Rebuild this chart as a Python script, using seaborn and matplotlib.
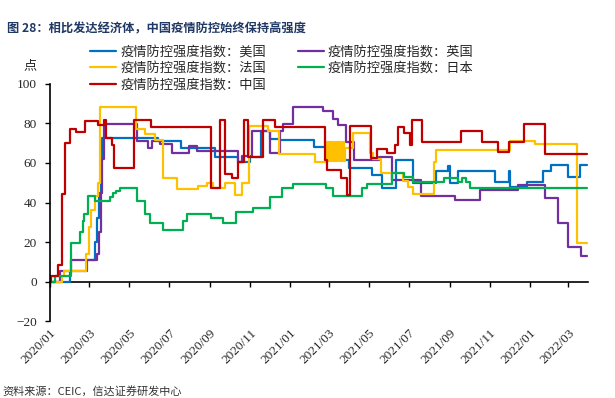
import pandas as pd
import numpy as np
import matplotlib
matplotlib.use("Agg")
import matplotlib.pyplot as plt
import matplotlib.dates as mdates
import seaborn as sns

# 疫情防控强度指数（按变化点记录，阶梯线）
us_dates = ["2020-01-01", "2020-02-01", "2020-02-27", "2020-03-09", "2020-03-13", "2020-03-16",
            "2020-03-19", "2020-03-21", "2020-06-13", "2020-07-19", "2020-09-08", "2020-10-14",
            "2020-11-01", "2020-11-18", "2020-12-01", "2020-12-16", "2021-02-06", "2021-03-24",
            "2021-04-01", "2021-05-06", "2021-05-21", "2021-06-12", "2021-07-08", "2021-08-11",
            "2021-08-30", "2021-09-02", "2021-09-14", "2021-11-09", "2021-11-30", "2021-12-02",
            "2021-12-28", "2022-01-21", "2022-02-02", "2022-03-01", "2022-03-19", "2022-03-30"]
us_vals = [0, 5.6, 11.0, 20.0, 32.0, 45.0,
           62.0, 72.7, 71.3, 67.6, 63.1, 60.6,
           63.1, 75.9, 72.2, 71.8, 68.2, 61.5,
           57.3, 53.9, 47.2, 61.5, 49.7, 55.9,
           58.5, 49.7, 55.9, 50.5, 55.9, 48.0,
           50.5, 55.9, 58.9, 53.0, 58.9, 58.9]

uk_dates = ["2020-01-01", "2020-01-17", "2020-02-02", "2020-03-13", "2020-03-16", "2020-03-19",
            "2020-03-21", "2020-03-23", "2020-05-12", "2020-05-30", "2020-06-05", "2020-06-17",
            "2020-07-05", "2020-07-31", "2020-08-12", "2020-10-14", "2020-10-20", "2020-11-04",
            "2020-12-02", "2020-12-16", "2020-12-21", "2021-01-05", "2021-02-20", "2021-03-08",
            "2021-03-15", "2021-03-27", "2021-04-08", "2021-05-17", "2021-06-06", "2021-07-19",
            "2021-09-09", "2021-10-17", "2021-12-15", "2022-01-24", "2022-02-14", "2022-03-01",
            "2022-03-21", "2022-03-30"]
uk_vals = [0, 5.6, 11.1, 13.9, 25.0, 45.0,
           62.0, 79.6, 71.3, 67.6, 71.3, 69.4,
           64.8, 68.5, 66.2, 60.6, 63.7, 75.9,
           64.8, 75.9, 79.6, 88.0, 86.1, 82.4,
           79.2, 70.8, 61.6, 63.0, 51.4, 43.5,
           41.2, 46.3, 48.6, 42.1, 29.6, 17.6,
           13.0, 13.0]

fr_dates = ["2020-01-01", "2020-01-20", "2020-01-23", "2020-02-25", "2020-02-29", "2020-03-04",
            "2020-03-09", "2020-03-14", "2020-03-17", "2020-05-11", "2020-05-25", "2020-06-09",
            "2020-06-22", "2020-07-12", "2020-08-13", "2020-08-27", "2020-09-06", "2020-09-24",
            "2020-10-09", "2020-10-19", "2020-10-30", "2020-11-28", "2020-12-15", "2021-02-08",
            "2021-02-26", "2021-02-28", "2021-03-02", "2021-03-04", "2021-03-06", "2021-03-08",
            "2021-03-10", "2021-03-12", "2021-03-14", "2021-03-16", "2021-03-18", "2021-03-20",
            "2021-03-22", "2021-03-24", "2021-03-26", "2021-04-07", "2021-05-03", "2021-05-08",
            "2021-05-19", "2021-06-22", "2021-06-30", "2021-07-08", "2021-08-09", "2021-08-12",
            "2021-12-02", "2022-01-09", "2022-03-14", "2022-03-30"]
fr_vals = [0, 2.8, 5.6, 13.9, 27.8, 36.0,
           43.5, 50.0, 88.0, 77.0, 74.8, 71.8,
           52.3, 46.8, 48.2, 49.7, 47.2, 49.7,
           43.8, 49.7, 78.7, 75.9, 64.4, 60.7,
           70.4, 61.1, 70.4, 61.1, 70.4, 61.1,
           70.4, 61.1, 70.4, 61.1, 70.4, 61.1,
           70.4, 61.1, 67.6, 75.0, 65.0, 62.0,
           55.1, 50.9, 48.0, 44.4, 60.6, 66.7,
           71.3, 69.4, 19.4, 19.4]

jp_dates = ["2020-01-01", "2020-01-08", "2020-02-02", "2020-02-16", "2020-02-20", "2020-02-22",
            "2020-02-28", "2020-03-09", "2020-04-01", "2020-04-06", "2020-04-11", "2020-04-16",
            "2020-05-12", "2020-05-25", "2020-06-01", "2020-06-21", "2020-07-22", "2020-07-28",
            "2020-09-03", "2020-09-20", "2020-10-10", "2020-11-06", "2020-12-01", "2020-12-19",
            "2021-01-06", "2021-02-25", "2021-03-08", "2021-04-20", "2021-04-28", "2021-06-05",
            "2021-06-23", "2021-07-08", "2021-08-23", "2021-09-14", "2021-09-20", "2021-09-26",
            "2021-10-02", "2022-03-30"]
jp_vals = [0, 2.8, 19.4, 25.0, 30.6, 34.3,
           43.5, 40.7, 42.6, 45.0, 46.0, 47.2,
           40.7, 34.3, 29.6, 25.9, 30.6, 34.3,
           32.4, 29.6, 35.2, 37.0, 42.6, 47.2,
           49.5, 47.2, 43.5, 47.2, 49.5, 55.1,
           52.8, 50.5, 52.3, 50.5, 52.3, 50.5,
           47.2, 47.2]

cn_dates = ["2020-01-01", "2020-01-03", "2020-01-13", "2020-01-20", "2020-01-24", "2020-01-31",
            "2020-02-10", "2020-02-24", "2020-03-14", "2020-03-23", "2020-03-27", "2020-04-04",
            "2020-04-07", "2020-05-08", "2020-06-03", "2020-09-03", "2020-09-16", "2020-09-23",
            "2020-10-04", "2020-10-14", "2020-10-22", "2020-10-29", "2020-11-21", "2020-12-09",
            "2021-02-23", "2021-02-27", "2021-03-20", "2021-03-29", "2021-04-02", "2021-05-05",
            "2021-05-13", "2021-05-28", "2021-06-10", "2021-06-15", "2021-06-23", "2021-07-02",
            "2021-07-06", "2021-07-21", "2021-09-18", "2021-10-20", "2021-11-14", "2021-11-30",
            "2021-12-24", "2022-01-25", "2022-03-30"]
cn_vals = [0, 2.8, 8.3, 44.4, 69.9, 77.3,
           75.5, 81.0, 79.2, 81.5, 72.4, 69.0,
           57.4, 81.9, 78.2, 47.2, 81.9, 54.6,
           52.3, 60.6, 81.7, 63.0, 81.7, 78.2,
           61.5, 56.4, 52.3, 43.8, 78.7, 62.3,
           67.1, 65.0, 69.0, 78.3, 75.0, 69.0,
           81.9, 70.7, 76.3, 70.7, 65.3, 70.7,
           79.4, 64.3, 64.3]

series = [
    ("疫情防控强度指数：美国", us_dates, us_vals, "#0070C0"),
    ("疫情防控强度指数：英国", uk_dates, uk_vals, "#7030A0"),
    ("疫情防控强度指数：法国", fr_dates, fr_vals, "#FFC000"),
    ("疫情防控强度指数：日本", jp_dates, jp_vals, "#00B050"),
    ("疫情防控强度指数：中国", cn_dates, cn_vals, "#C00000"),
]
legend_order = [0, 2, 4, 1, 3]  # 两列图例，按列填充

tick_dates = pd.date_range("2020-01-01", "2022-03-01", freq="2MS")
tick_labels = [d.strftime("%Y/%m") for d in tick_dates]

sns.set_style("white")
cjk = ["Noto Sans CJK SC", "DejaVu Sans"]
serif = ["Liberation Serif", "DejaVu Serif"]
plt.rcParams["font.family"] = cjk

fig = plt.figure(figsize=(6.15, 3.98), dpi=100)
ax = fig.add_axes([0.0813, 0.1927, 0.8747, 0.597])

for name, dates, vals, color in series:
    sns.lineplot(x=pd.to_datetime(dates), y=vals, ax=ax, color=color, lw=1.6,
                 drawstyle="steps-post", label=name)

ax.set_xlim(pd.Timestamp("2020-01-01"), pd.Timestamp("2022-03-31"))
ax.set_ylim(-20, 100)
ax.set_yticks(np.arange(-20, 101, 20))
ax.set_xlabel("")
ax.set_ylabel("")

for s in ["top", "right", "bottom"]:
    ax.spines[s].set_visible(False)
ax.spines["left"].set_color("black")
ax.spines["left"].set_linewidth(1.2)
ax.tick_params(axis="y", direction="out", length=3.5, width=1.0, color="black",
               labelsize=9.5, pad=6, left=True)
for lab in ax.get_yticklabels():
    lab.set_family(serif)

# x 轴刻度标签在底部，刻度线放在零线上
ax.set_xticks(tick_dates)
ax.set_xticklabels(tick_labels, rotation=45, ha="right", va="top",
                   rotation_mode="anchor", family=serif, fontsize=9.5)
ax.tick_params(axis="x", length=0, pad=4, bottom=True)

zero = ax.secondary_xaxis(20 / 120)
zero.spines["bottom"].set_color("black")
zero.spines["bottom"].set_linewidth(1.2)
zero.set_xticks(mdates.date2num(tick_dates))
zero.tick_params(axis="x", direction="out", length=3.5, width=1.0, color="black",
                 labelbottom=False)

handles, labels = ax.get_legend_handles_labels()
ax.legend([handles[i] for i in legend_order], [labels[i] for i in legend_order],
          ncol=2, loc="upper left", bbox_to_anchor=(0.146, 0.885),
          bbox_transform=fig.transFigure, frameon=False, borderpad=0, borderaxespad=0,
          handlelength=2.0, handletextpad=0.3, columnspacing=2.4, labelspacing=0.25,
          prop={"family": cjk, "size": 9.5})

fig.text(0.049, 0.835, "点", fontsize=9.5, ha="center", va="center", family=cjk)
fig.text(0.011, 0.927, "图 28：相比发达经济体，中国疫情防控始终保持高强度",
         fontsize=8.8, fontweight="bold", color="#203864", ha="left", va="center", family=cjk)
fig.text(0.004, 0.003, "资料来源：CEIC，信达证券研发中心", fontsize=8, style="italic",
         color="#333333", ha="left", va="bottom", family=cjk)

fig.savefig("out.png", dpi=100)
